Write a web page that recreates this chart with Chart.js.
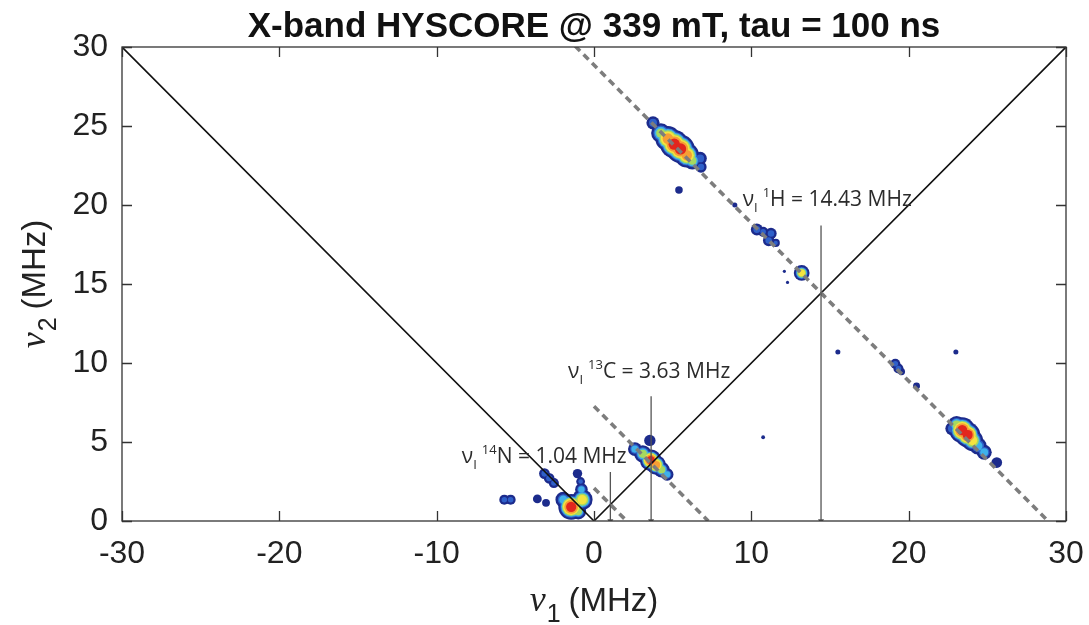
<!DOCTYPE html>
<html>
<head>
<meta charset="utf-8">
<script src="https://cdn.jsdelivr.net/npm/chart.js@4.4.1/dist/chart.umd.min.js"></script>
<style>
  html, body { margin: 0; padding: 0; background: #ffffff; }
  #wrap { width: 1089px; height: 625px; }
</style>
</head>
<body>
<div id="wrap"><canvas id="c" width="1089" height="625"></canvas></div>
<script>
// ---- axes ----
const xTicks = [-30, -20, -10, 0, 10, 20, 30];
const yTicks = [0, 5, 10, 15, 20, 25, 30];

// ---- nuclear Larmor frequencies (MHz) ----
const nucleusMass = ['14', '13', '1'];
const nucleusSymbol = ['N', 'C', 'H'];
const larmorFreq = [1.04, 3.63, 14.43];
// where each antidiagonal (nu1 + nu2 = 2 nuI) starts on the nu1 axis
const antiStartX = [0, 0, -1.2];
// top of each marker arrow (MHz)
const arrowTop = [3.1, 7.9, 18.7];

// ---- diagonal nu2 = |nu1| ----
const diagX = [-30, 0, 30];
const diagY = [30, 0, 30];

// ---- correlation peaks: position (MHz), spread (MHz), highest contour level ----
const peakX = [
  3.75, 4.25, 4.7, 5.1, 5.5, 5.9, 6.25, 6.75, 6.8, 5.4, 8.95,
  10.35, 10.75, 11.25, 11.1, 11.55, 13.2, 12.1, 12.3,
  19.15, 19.35, 19.55, 20.5, 23.0, 15.5, 10.75,
  22.75, 23.05, 23.4, 23.75, 24.05, 24.4, 24.8, 25.6,
  3.55, 2.6, 3.1, 3.6, 3.95, 4.3, 4.65,
  -1.45, -0.75, -1.95, -0.8, -0.85, -1.05, -1.0,
  -3.15, -2.85, -2.55,
  -5.7, -5.3, -3.6, -3.05
];
const peakY = [
  25.2, 24.55, 24.2, 23.85, 23.55, 23.15, 22.8, 22.95, 22.4, 20.95, 20.0,
  18.45, 18.3, 18.2, 17.75, 17.6, 15.7, 15.8, 15.1,
  9.95, 9.65, 9.45, 8.55, 10.7, 10.7, 5.3,
  5.85, 6.1, 5.75, 5.45, 5.1, 4.75, 4.35, 3.7,
  5.1, 4.55, 4.25, 3.85, 3.55, 3.25, 2.95,
  0.9, 1.35, 1.35, 2.0, 2.5, 3.0, 0.6,
  3.0, 2.7, 2.4,
  1.35, 1.35, 1.4, 1.15
];
const peakSpread = [
  0.42, 0.62, 0.8, 0.9, 0.9, 0.78, 0.55, 0.42, 0.36, 0.24, 0.16,
  0.38, 0.32, 0.36, 0.36, 0.26, 0.5, 0.1, 0.1,
  0.32, 0.32, 0.22, 0.22, 0.16, 0.16, 0.12,
  0.42, 0.55, 0.82, 0.8, 0.68, 0.55, 0.48, 0.34,
  0.36, 0.44, 0.55, 0.68, 0.62, 0.5, 0.4,
  0.82, 0.66, 0.5, 0.4, 0.28, 0.3, 0.5,
  0.34, 0.34, 0.32,
  0.32, 0.32, 0.28, 0.25
];
const peakLevel = [
  2, 4, 6, 7, 7, 6, 4, 2, 2, 1, 1,
  2, 2, 2, 2, 2, 5, 1, 1,
  2, 2, 1, 1, 1, 1, 1,
  2, 4, 7, 7, 5, 3, 3, 1,
  1, 3, 4, 7, 6, 4, 3,
  7, 5, 3, 3, 2, 1, 4,
  2, 2, 2,
  2, 2, 1, 1
];

// jet-like contour colours, lowest to highest level
const levelColors = ['#1c2b8c', '#2f60c9', '#3fb1ea', '#a6d960', '#f5e33f', '#f69e35', '#e2261d'];

const SANS = '"Liberation Sans", Arial, sans-serif';
const LABEL_FONT = '"Open Sans", sans-serif';

function pxPerMHz(chart) {
  const s = chart.scales.x;
  return Math.abs(s.getPixelForValue(1) - s.getPixelForValue(0));
}

function contourRadius(ctx, k) {
  const p = ctx.raw;
  const R = p.s * pxPerMHz(ctx.chart);
  if (k === 1) return R;
  const inner = Math.max(R - 1.3, 0.6);
  return inner * Math.pow(1 - (k - 1) / p.L, 0.42);
}

const datasets = [];

// filled contour levels, lowest level drawn first
levelColors.forEach((col, i) => {
  const k = i + 1;
  const pts = [];
  peakX.forEach((x, j) => {
    if (peakLevel[j] >= k) pts.push({ x: x, y: peakY[j], s: peakSpread[j], L: peakLevel[j] });
  });
  datasets.push({
    type: 'scatter',
    data: pts,
    pointRadius: ctx => contourRadius(ctx, k),
    pointBackgroundColor: col,
    pointBorderWidth: 0,
    showLine: false,
    order: 100 - k
  });
});

// nu2 = |nu1|
datasets.push({
  type: 'scatter',
  data: diagX.map((x, i) => ({ x: x, y: diagY[i] })),
  showLine: true,
  borderColor: '#111111',
  borderWidth: 1.6,
  pointRadius: 0,
  order: 2
});

// antidiagonals through the Larmor frequencies
larmorFreq.forEach((nu, i) => {
  const x0 = antiStartX[i];
  datasets.push({
    type: 'scatter',
    data: [{ x: x0, y: 2 * nu - x0 }, { x: 2 * nu, y: 0 }],
    showLine: true,
    borderColor: '#7d7d7d',
    borderWidth: 3.6,
    borderDash: [7, 5],
    pointRadius: 0,
    order: 1
  });
});

// marker arrows at nu1 = nuI
larmorFreq.forEach((nu, i) => {
  datasets.push({
    type: 'scatter',
    data: [{ x: nu, y: arrowTop[i] }, { x: nu, y: 0 }],
    showLine: true,
    borderColor: '#555555',
    borderWidth: 1.3,
    pointStyle: 'triangle',
    rotation: 180,
    pointRadius: [0, 3.5],
    pointBackgroundColor: '#555555',
    pointBorderWidth: 0,
    order: 0
  });
});

// draw a run of text pieces with their own fonts and offsets
function drawRun(ctx, parts, x, y, align) {
  let total = 0;
  parts.forEach(p => { ctx.font = p.font; total += ctx.measureText(p.t).width + (p.gap || 0); });
  let cx = align === 'center' ? x - total / 2 : x;
  parts.forEach(p => {
    ctx.font = p.font;
    ctx.fillText(p.t, cx, y + (p.dy || 0));
    cx += ctx.measureText(p.t).width + (p.gap || 0);
  });
}

// label anchors: left end and baseline, in MHz
const labelAnchorX = [-8.4, -1.65, 9.45];
const labelAnchorY = [3.67, 9.05, 19.95];

const decorations = {
  id: 'decorations',
  afterDatasetsDraw(chart) {
    const ctx = chart.ctx;
    const xs = chart.scales.x, ys = chart.scales.y;
    const a = chart.chartArea;
    ctx.save();

    // Larmor labels
    ctx.fillStyle = '#2b2b2b';
    ctx.textBaseline = 'alphabetic';
    larmorFreq.forEach((nu, i) => {
      const px = xs.getPixelForValue(labelAnchorX[i]);
      const py = ys.getPixelForValue(labelAnchorY[i]);
      drawRun(ctx, [
        { t: 'ν', font: '21px ' + LABEL_FONT },
        { t: 'I', font: '13px ' + LABEL_FONT, dy: 6, gap: 5 },
        { t: nucleusMass[i], font: '13px ' + LABEL_FONT, dy: -9 },
        { t: nucleusSymbol[i] + ' = ' + nu.toFixed(2) + ' MHz', font: '21px ' + LABEL_FONT }
      ], px, py, 'left');
    });

    // frame with inward ticks
    ctx.strokeStyle = '#333333';
    ctx.lineWidth = 1.3;
    ctx.strokeRect(a.left, a.top, a.right - a.left, a.bottom - a.top);
    const tl = 10;
    ctx.beginPath();
    xTicks.forEach(v => {
      const p = Math.round(xs.getPixelForValue(v)) + 0.5;
      ctx.moveTo(p, a.bottom); ctx.lineTo(p, a.bottom - tl);
      ctx.moveTo(p, a.top); ctx.lineTo(p, a.top + tl);
    });
    yTicks.forEach(v => {
      const p = Math.round(ys.getPixelForValue(v)) + 0.5;
      ctx.moveTo(a.left, p); ctx.lineTo(a.left + tl, p);
      ctx.moveTo(a.right, p); ctx.lineTo(a.right - tl, p);
    });
    ctx.stroke();

    // axis titles
    ctx.fillStyle = '#222222';
    const nuFont = 'italic 36px "Liberation Serif", serif';
    const subFont = '25px ' + SANS;
    const unitFont = '33px ' + SANS;
    drawRun(ctx, [
      { t: 'ν', font: nuFont, gap: 1 },
      { t: '1', font: subFont, dy: 11, gap: 8 },
      { t: '(MHz)', font: unitFont }
    ], (a.left + a.right) / 2, 611, 'center');

    ctx.translate(45, (a.top + a.bottom) / 2);
    ctx.rotate(-Math.PI / 2);
    drawRun(ctx, [
      { t: 'ν', font: nuFont, gap: 1 },
      { t: '2', font: subFont, dy: 11, gap: 8 },
      { t: '(MHz)', font: unitFont }
    ], 0, 0, 'center');
    ctx.restore();
  }
};

new Chart(document.getElementById('c'), {
  type: 'scatter',
  data: { datasets: datasets },
  plugins: [decorations],
  options: {
    responsive: false,
    animation: false,
    events: [],
    layout: { padding: { left: 0, right: 23, top: 0, bottom: 0 } },
    plugins: {
      legend: { display: false },
      tooltip: { enabled: false },
      title: {
        display: true,
        fullSize: false,
        text: 'X-band HYSCORE @ 339 mT, tau = 100 ns',
        color: '#111111',
        font: { family: SANS, size: 35, weight: 'bold', lineHeight: 1 },
        padding: { top: 10, bottom: 2 }
      }
    },
    scales: {
      x: {
        type: 'linear',
        min: -30, max: 30,
        afterBuildTicks: s => { s.ticks = xTicks.map(v => ({ value: v })); },
        afterFit: s => { s.height = 104; s.paddingLeft = 0; s.paddingRight = 0; },
        ticks: { font: { family: SANS, size: 32 }, color: '#222222', padding: 14, maxRotation: 0, autoSkip: false },
        grid: { display: false, drawTicks: false },
        border: { display: false }
      },
      y: {
        type: 'linear',
        min: 0, max: 30,
        afterBuildTicks: s => { s.ticks = yTicks.map(v => ({ value: v })); },
        afterFit: s => { s.width = 122; s.paddingTop = 0; s.paddingBottom = 0; },
        ticks: { font: { family: SANS, size: 32 }, color: '#222222', padding: 14, autoSkip: false },
        grid: { display: false, drawTicks: false },
        border: { display: false }
      }
    }
  }
});
</script>
</body>
</html>
